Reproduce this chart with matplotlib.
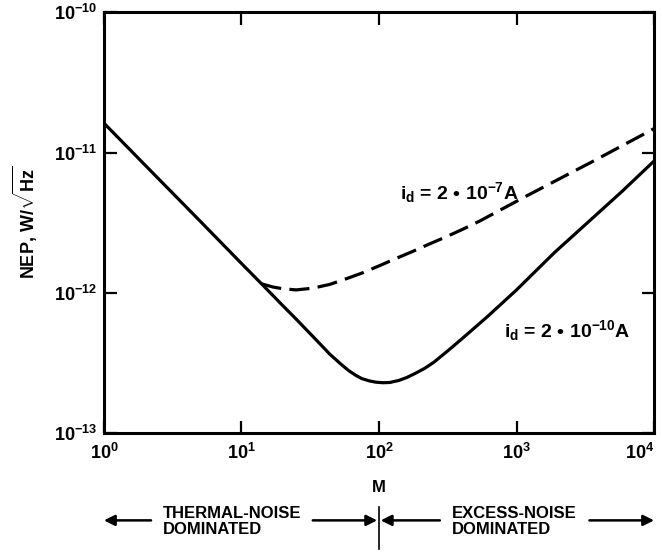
import numpy as np
import matplotlib
matplotlib.use('Agg')
import matplotlib.pyplot as plt
import matplotlib.transforms as mtransforms

plt.rcParams['font.family'] = ['Liberation Sans', 'DejaVu Sans']
plt.rcParams['font.weight'] = 'bold'
plt.rcParams['mathtext.fontset'] = 'custom'
plt.rcParams['mathtext.rm'] = 'Liberation Sans:bold'
plt.rcParams['mathtext.it'] = 'Liberation Sans:bold'
plt.rcParams['mathtext.bf'] = 'Liberation Sans:bold'
plt.rcParams['mathtext.default'] = 'bf'

# solid curve, i_d = 2e-10 A
m_solid = [1, 2, 5, 10, 14, 20, 25, 33, 44, 52, 60, 68, 75, 85, 95, 107, 120,
           140, 160, 185, 215, 250, 320, 400, 617, 1000, 1900, 3500, 5870, 10000]
nep_solid = [1.62e-11, 8.1e-12, 3.25e-12, 1.62e-12, 1.16e-12, 8.1e-13, 6.5e-13,
             4.9e-13, 3.65e-13, 3.15e-13, 2.8e-13, 2.58e-13, 2.45e-13, 2.36e-13,
             2.31e-13, 2.29e-13, 2.3e-13, 2.38e-13, 2.5e-13, 2.68e-13, 2.9e-13,
             3.2e-13, 3.9e-13, 4.7e-13, 6.8e-13, 1.05e-12, 1.95e-12, 3.35e-12,
             5.3e-12, 8.7e-12]

# dashed curve, i_d = 2e-7 A
m_dash = [14, 17, 20, 25, 33, 44, 59, 76, 102, 135, 177, 230, 311, 400, 540,
          1180, 3550, 10000]
nep_dash = [1.16e-12, 1.1e-12, 1.07e-12, 1.05e-12, 1.08e-12, 1.15e-12, 1.27e-12,
            1.39e-12, 1.57e-12, 1.77e-12, 1.98e-12, 2.22e-12, 2.52e-12, 2.82e-12,
            3.25e-12, 4.9e-12, 8.6e-12, 1.48e-11]

xticks = [1, 10, 100, 1000, 10000]
xlabels = [r'$10^{0}$', r'$10^{1}$', r'$10^{2}$', r'$10^{3}$', r'$10^{4}$']
yticks = [1e-13, 1e-12, 1e-11, 1e-10]
ylabels = [r'$10^{-13}$', r'$10^{-12}$', r'$10^{-11}$', r'$10^{-10}$']

fig = plt.figure(figsize=(6.62, 5.54), dpi=100)
ax = fig.add_axes([0.157, 0.218, 0.831, 0.760])

ax.plot(m_solid, nep_solid, color='black', lw=2.3, solid_capstyle='butt',
        solid_joinstyle='round')
ax.plot(m_dash, nep_dash, color='black', lw=2.3, dashes=[6.3, 2.6])

ax.set_xscale('log')
ax.set_yscale('log')
ax.set_xlim(1, 1e4)
ax.set_ylim(1e-13, 1e-10)
ax.set_xticks(xticks)
ax.set_xticklabels(xlabels)
ax.set_yticks(yticks)
ax.set_yticklabels(ylabels)
ax.minorticks_off()
ax.tick_params(direction='in', length=9, width=1.6, labelsize=13,
               top=True, right=True)
ax.tick_params(axis='x', pad=7)
ax.tick_params(axis='y', pad=5)
ax.get_xticklabels()[-1].set_horizontalalignment('right')
for s in ax.spines.values():
    s.set_linewidth(2.2)

ax.set_xlabel('M', fontsize=12, fontweight='bold', labelpad=12)
ax.set_ylabel(r'NEP, W/$\sqrt{Hz}$', fontsize=13, fontweight='bold', labelpad=10)

ax.text(142, 5.2e-12, 'i$_d$ = 2 \u2022 10$^{-7}$A', fontsize=14, va='center')
ax.text(810, 5.4e-13, 'i$_d$ = 2 \u2022 10$^{-10}$A', fontsize=14, va='center')

# regime arrows under the axis
tr = mtransforms.blended_transform_factory(ax.transData, ax.transAxes)
ya = -0.207
arrow = dict(arrowstyle='-|>', color='black', lw=1.8, mutation_scale=16,
             shrinkA=0, shrinkB=0)
ax.annotate('', xy=(1.0, ya), xytext=(2.2, ya), xycoords=tr, textcoords=tr,
            arrowprops=arrow, annotation_clip=False)
ax.annotate('', xy=(97, ya), xytext=(33, ya), xycoords=tr, textcoords=tr,
            arrowprops=arrow, annotation_clip=False)
ax.annotate('', xy=(103, ya), xytext=(277, ya), xycoords=tr, textcoords=tr,
            arrowprops=arrow, annotation_clip=False)
ax.annotate('', xy=(10000, ya), xytext=(3390, ya), xycoords=tr, textcoords=tr,
            arrowprops=arrow, annotation_clip=False)
ax.plot([100, 100], [-0.175, -0.275], transform=tr, color='black', lw=1.2,
        clip_on=False)
ax.text(2.7, ya - 0.003, 'THERMAL-NOISE\nDOMINATED', transform=tr, fontsize=12,
        va='center', ha='left', linespacing=1.05)
ax.text(337, ya - 0.003, 'EXCESS-NOISE\nDOMINATED', transform=tr, fontsize=12,
        va='center', ha='left', linespacing=1.05)

fig.savefig('out.png', dpi=100)
